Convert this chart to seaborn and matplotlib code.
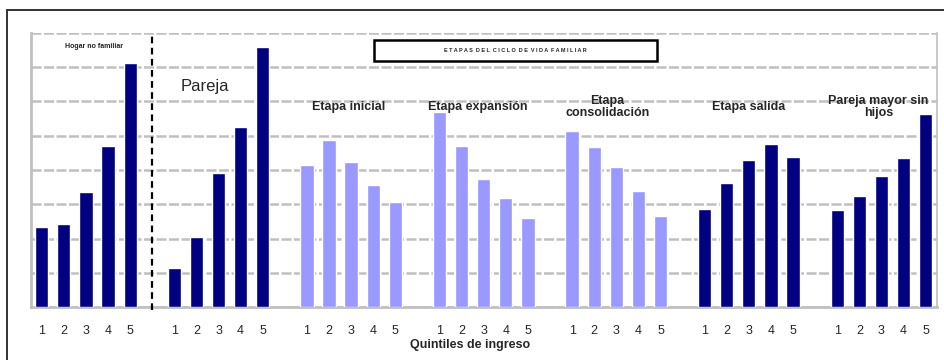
import matplotlib
matplotlib.use("Agg")
import matplotlib.pyplot as plt
import seaborn as sns
import pandas as pd
from matplotlib.patches import Rectangle
from matplotlib.lines import Line2D

# Household types (groups of five income quintiles each)
grupos = ["Hogar no familiar", "Pareja", "Etapa inicial", "Etapa expansión",
          "Etapa consolidación", "Etapa salida", "Pareja mayor sin hijos"]
quintiles = ["1", "2", "3", "4", "5"]
tipo_grupo = ["oscuro", "oscuro", "claro", "claro", "claro", "oscuro", "oscuro"]

hogar_no_familiar = [2.34, 2.43, 3.36, 4.70, 7.12]
pareja = [1.14, 2.05, 3.91, 5.25, 7.58]
etapa_inicial = [4.14, 4.87, 4.23, 3.56, 3.07]
etapa_expansion = [5.69, 4.70, 3.74, 3.18, 2.60]
etapa_consolidacion = [5.14, 4.67, 4.09, 3.39, 2.66]
etapa_salida = [2.86, 3.62, 4.29, 4.76, 4.38]
pareja_mayor = [2.83, 3.24, 3.82, 4.35, 5.63]

valores = [hogar_no_familiar, pareja, etapa_inicial, etapa_expansion,
           etapa_consolidacion, etapa_salida, pareja_mayor]

colores = {"oscuro": "#000080", "claro": "#9999FF"}

# One slot per bar plus an empty slot between groups
filas = []
for g, (nombre, vals, tipo) in enumerate(zip(grupos, valores, tipo_grupo)):
    for q, v in enumerate(vals):
        filas.append({"pos": g * 6 + q, "valor": v, "tipo": tipo, "grupo": nombre})
df = pd.DataFrame(filas)
n_slots = len(grupos) * 6 - 1

sns.set_style("white")
plt.rcParams["font.family"] = ["Liberation Sans", "DejaVu Sans"]

fig = plt.figure(figsize=(9.44, 3.6), dpi=100)
ax = fig.add_axes([30.7 / 944, 52.7 / 360, 906 / 944, 274.6 / 360])

sns.barplot(data=df, x="pos", y="valor", hue="tipo", order=list(range(n_slots)),
            palette=colores, dodge=False, width=0.6, legend=False,
            saturation=1, ax=ax, zorder=3)

ax.set_xlim(-0.5, n_slots - 0.5)
ax.set_ylim(0, 8)
ax.set_yticks(range(0, 9))
ax.set_yticklabels([])
ax.tick_params(axis="y", length=0)
ax.grid(axis="y", color="#c0c0c0", linewidth=1.8, linestyle=(0, (4, 1)), zorder=0)
ax.grid(axis="x", visible=False)
for s in ax.spines.values():
    s.set_color("#c0c0c0")
    s.set_linewidth(2)
ax.spines["top"].set_visible(False)
ax.spines["right"].set_linewidth(1.2)

# Quintile labels under each bar, small marks between slots
centros = [g * 6 + q for g in range(len(grupos)) for q in range(5)]
ax.set_xticks(centros)
ax.set_xticklabels(quintiles * len(grupos), fontsize=9)
ax.tick_params(axis="x", which="major", length=0, pad=13)
ax.set_xticks([i - 0.5 for i in range(n_slots + 1)], minor=True)
ax.tick_params(axis="x", which="minor", length=4, width=1.5, color="#c0c0c0")
ax.set_xlabel("")
ax.set_ylabel("")

# Separator between non-family households and family stages
ax.plot([5, 5], [-0.08, 8], color="black", linestyle=(0, (3, 2)), linewidth=1.6,
        clip_on=False, zorder=4)

# Group titles
ax.text(2.37, 7.61, "Hogar no familiar", ha="center", va="center",
        fontsize=5, fontweight="bold", color="#222222")
ax.text(7.4, 6.42, "Pareja", ha="center", va="center", fontsize=12)
ax.text(13.9, 5.83, "Etapa inicial", ha="center", va="center",
        fontsize=9, fontweight="bold")
ax.text(19.75, 5.83, "Etapa expansión", ha="center", va="center",
        fontsize=9, fontweight="bold")
ax.text(25.6, 5.83, "Etapa\nconsolidación", ha="center", va="center",
        fontsize=9, fontweight="bold", linespacing=0.95)
ax.text(32.0, 5.83, "Etapa salida", ha="center", va="center",
        fontsize=9, fontweight="bold")
ax.text(37.87, 5.83, "Pareja mayor sin\nhijos", ha="center", va="center",
        fontsize=9, fontweight="bold", linespacing=0.95)

# Boxed heading for the family life-cycle stages
ax.add_patch(Rectangle((15.02, 7.18), 12.84, 0.61, facecolor="white",
                       edgecolor="black", linewidth=1.8, zorder=5))
ax.text(21.44, 7.485, "E T A P A S  D E L  C I C L O  D E  V I D A  F A M I L I A R",
        ha="center", va="center", fontsize=4.0, fontweight="bold", zorder=6)

fig.text(470 / 944, 1 - 345 / 360, "Quintiles de ingreso", ha="center",
         va="center", fontsize=9, fontweight="bold")

# Outer frame (top and left edges)
fig.add_artist(Line2D([7 / 944, 7 / 944], [0, 1 - 10 / 360], color="#333333",
                      linewidth=1.4, transform=fig.transFigure))
fig.add_artist(Line2D([7 / 944, 1], [1 - 10 / 360, 1 - 10 / 360], color="#333333",
                      linewidth=1.4, transform=fig.transFigure))

fig.savefig("out.png", dpi=100)
